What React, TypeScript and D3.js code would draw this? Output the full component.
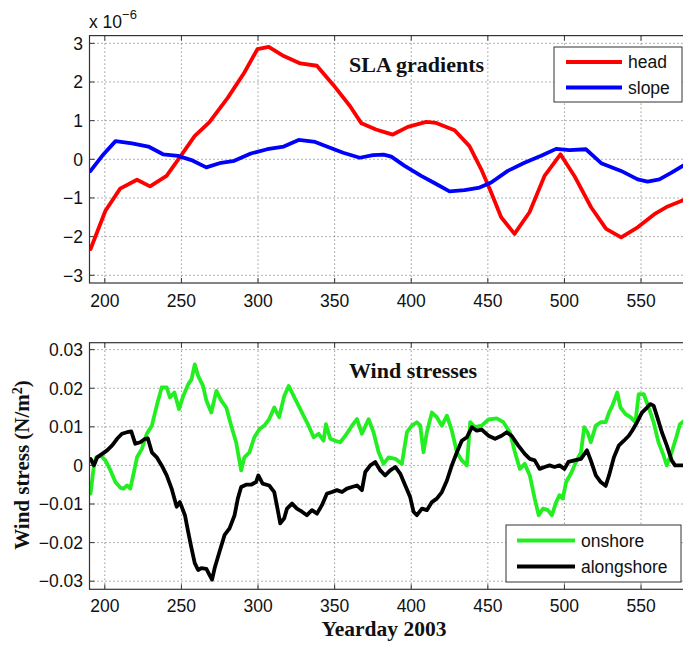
import React from "react";
import * as d3 from "d3";

// ---------- Data ----------
// Top panel: SLA gradients (x 1e-6)
const headDays = [190.7, 200.4, 210, 221, 229.5, 240.3, 249.6, 258.6, 268.3, 280.2, 291, 299.6, 307, 316.8, 327.6, 338.4, 349, 360, 367.5, 377, 383.6, 388, 397.8, 409.8, 416.3, 428.3, 438, 445.7, 452.2, 458.7, 467.4, 477.2, 487, 497.4, 506.5, 517.4, 527.2, 537, 547.8, 558.7, 567.4, 578];
const headVals = [-2.32, -1.33, -0.76, -0.53, -0.70, -0.43, 0.09, 0.60, 0.96, 1.59, 2.24, 2.85, 2.91, 2.67, 2.48, 2.42, 1.93, 1.38, 0.93, 0.77, 0.69, 0.64, 0.84, 0.97, 0.94, 0.75, 0.34, -0.26, -0.86, -1.50, -1.93, -1.37, -0.43, 0.13, -0.43, -1.24, -1.80, -2.02, -1.76, -1.42, -1.22, -1.05];

const slopeDays = [190.7, 198.3, 207, 217.7, 228.4, 238, 247.8, 256.5, 266.2, 275.9, 284.5, 295.3, 306, 316.8, 326.5, 337.3, 347, 355.6, 366.4, 375, 382, 387, 395.7, 406.5, 416.3, 425, 434.8, 444.6, 452.2, 463, 473.9, 484.8, 494.6, 503.3, 514, 524, 537, 547.8, 554.3, 562, 569.6, 578];
const slopeVals = [-0.30, 0.09, 0.47, 0.41, 0.33, 0.13, 0.09, -0.02, -0.21, -0.09, -0.04, 0.15, 0.26, 0.33, 0.50, 0.45, 0.30, 0.17, 0.04, 0.11, 0.12, 0.07, -0.17, -0.43, -0.64, -0.83, -0.80, -0.73, -0.60, -0.30, -0.09, 0.09, 0.27, 0.24, 0.26, -0.10, -0.30, -0.52, -0.58, -0.52, -0.35, -0.15];

// Bottom panel: wind stresses (N/m^2)
const onshoreDays = [190.7, 192.9, 194.4, 197.2, 200.4, 203.7, 206.9, 210.2, 212.3, 214.5, 216.6, 218.8, 221, 224.2, 227.4, 230.7, 233.9, 237.1, 240.4, 242.5, 245.4, 248.4, 251.2, 254.4, 256.6, 258.7, 260.9, 264.1, 266.3, 269.5, 272.8, 276, 279.3, 282.5, 285.7, 289, 291.1, 294.4, 297.6, 300.9, 304.1, 307.3, 310.6, 313.8, 317.1, 320, 324.3, 328.7, 333, 336.3, 339.6, 342.8, 344.3, 347.2, 350.4, 353.7, 357, 361.3, 364.6, 367.8, 372.2, 375.4, 378.7, 381.9, 385.2, 389.6, 393.9, 397.2, 400.4, 403.7, 405.9, 408, 410.2, 413.5, 416.7, 420, 423.3, 426.5, 429.8, 433, 436.3, 438.5, 441.7, 446, 450.4, 455.8, 460.1, 464.4, 467.7, 470.9, 474.1, 477.4, 480.6, 483.2, 486, 489.2, 491.8, 494.6, 496.8, 498.9, 501.1, 504.3, 507.5, 510.8, 512.9, 515.1, 517.2, 520.5, 523.7, 526.9, 529.1, 531.3, 534.5, 536.6, 539.9, 543.1, 546.3, 548.5, 551.7, 555, 558.2, 561.4, 564.7, 566.8, 570, 573.3, 575.4, 578];
const onshoreVals = [-0.73, 0, 0.21, 0.26, 0.13, -0.13, -0.43, -0.58, -0.60, -0.52, -0.60, -0.21, 0.21, 0.43, 0.82, 1.03, 1.55, 2.02, 2.02, 1.76, 1.89, 1.46, 1.80, 2.10, 2.23, 2.62, 2.32, 2.06, 1.68, 1.37, 1.93, 1.68, 1.50, 1.03, 0.60, -0.13, 0.21, 0.34, 0.73, 0.94, 1.03, 1.20, 1.50, 1.25, 1.80, 2.06, 1.72, 1.37, 1.03, 0.73, 0.82, 0.64, 1.07, 0.69, 0.64, 0.60, 0.77, 1.03, 1.20, 0.82, 1.20, 0.86, 0.34, 0.04, 0.21, 0.17, 0.04, 0.86, 1.03, 1.12, 1.03, 0.34, 0.86, 1.37, 1.25, 1.03, 1.29, 0.90, 0.34, 0.13, 0.00, 1.12, 0.99, 1.03, 1.19, 1.22, 1.12, 0.86, 0.34, -0.09, 0.04, -0.26, -0.86, -1.29, -1.12, -1.16, -1.29, -0.95, -0.77, -0.86, -0.43, -0.21, 0.09, 0.34, 0.99, 0.86, 0.60, 1.03, 1.12, 1.12, 1.37, 1.55, 1.89, 1.50, 1.33, 1.25, 1.12, 1.85, 1.85, 1.50, 1.12, 0.60, 0.26, 0.00, 0.34, 0.77, 1.07, 1.15].map((v) => v * 0.01);

const alongDays = [190.7, 192.9, 195, 198.3, 201.5, 204.8, 208, 211.2, 214.5, 217.3, 219.9, 223.1, 226.3, 228.1, 230.7, 233.9, 237.1, 240.4, 243.6, 246.9, 249, 252.3, 254.4, 256.6, 258.7, 260.9, 263, 266.3, 268.4, 270, 271.7, 274.9, 278.2, 281.4, 284.7, 286.8, 289, 292.2, 295.5, 298.7, 300.2, 303, 307.3, 310.6, 312.7, 314.5, 317.1, 318.9, 322.2, 325.4, 328.7, 331.9, 335.2, 338.5, 341.7, 345, 348.3, 351.5, 354.8, 358, 361.3, 364.6, 367.8, 370, 373.3, 376.5, 379.8, 383, 386.3, 389.6, 392.8, 396.1, 399.3, 401.5, 403.7, 407, 410.2, 413.5, 416.7, 420, 423.3, 426.5, 429.8, 433, 436.3, 439.6, 442.8, 446, 450.4, 454.7, 459, 462.3, 465.5, 469.8, 474.1, 477.4, 480.6, 483.8, 487.1, 490.3, 493.5, 496.8, 500, 502.6, 506.5, 510.8, 514.7, 517.2, 520.5, 523.7, 526.9, 529.1, 532.3, 535.6, 538.8, 542, 544.2, 547.4, 550.6, 553.9, 556, 558.2, 560.3, 563.6, 566.8, 570, 572.2, 575.4, 578];
const alongVals = [0.17, 0, 0.21, 0.30, 0.39, 0.52, 0.69, 0.82, 0.86, 0.88, 0.56, 0.60, 0.69, 0.70, 0.34, 0.21, 0.00, -0.26, -0.60, -1.07, -0.95, -1.29, -1.72, -2.15, -2.53, -2.71, -2.66, -2.68, -2.84, -2.96, -2.66, -2.23, -1.80, -1.63, -1.29, -0.86, -0.56, -0.50, -0.50, -0.43, -0.26, -0.47, -0.52, -0.69, -1.12, -1.50, -1.37, -1.12, -0.99, -1.12, -1.20, -1.29, -1.16, -1.25, -1.03, -0.73, -0.69, -0.64, -0.69, -0.60, -0.56, -0.52, -0.64, -0.17, 0.00, 0.09, -0.13, -0.26, -0.13, -0.04, -0.21, -0.52, -0.82, -1.20, -1.29, -1.12, -1.16, -0.95, -0.86, -0.69, -0.39, 0.00, 0.34, 0.64, 0.73, 0.99, 0.90, 0.93, 0.77, 0.69, 0.77, 0.86, 0.77, 0.52, 0.30, 0.17, 0.13, -0.09, -0.04, 0.00, -0.04, 0.00, -0.09, 0.09, 0.13, 0.17, 0.39, 0.13, -0.26, -0.43, -0.53, -0.26, 0.21, 0.52, 0.64, 0.77, 0.90, 1.12, 1.37, 1.50, 1.59, 1.55, 1.29, 0.86, 0.52, 0.13, 0.00, 0.00, 0.0].map((v) => v * 0.01);

const xTicks = [200, 250, 300, 350, 400, 450, 500, 550];
const topYTicks = [-3, -2, -1, 0, 1, 2, 3];
const bottomYTicks = [-0.03, -0.02, -0.01, 0, 0.01, 0.02, 0.03];

const W = 683;
const H = 645;
const SANS = "'Liberation Sans', Arial, sans-serif";
const SERIF = "'Liberation Serif', 'Times New Roman', serif";
const LINE_W = 3.8;

type Series = { days: number[]; vals: number[]; color: string };

function Panel({
  top,
  bottom,
  yDomain,
  yTicks,
  yFmt,
  series,
  title,
  titleY,
  legend,
  legendBox,
  id,
  xLabelY,
}: {
  top: number;
  bottom: number;
  yDomain: [number, number];
  yTicks: number[];
  yFmt: (v: number) => string;
  series: Series[];
  title: string;
  titleY: number;
  legend: { label: string; color: string }[];
  legendBox: { x: number; y: number; w: number; h: number; lineX0: number; lineX1: number; textX: number; rows: number[] };
  id: string;
  xLabelY: number;
}) {
  const left = 89.5;
  const right = 687;
  const x = d3.scaleLinear().domain([190, 580]).range([left, right]);
  const y = d3.scaleLinear().domain(yDomain).range([bottom, top]);
  const line = d3
    .line<[number, number]>()
    .x((d) => x(d[0]))
    .y((d) => y(d[1]));
  const tick = 5;
  return (
    <g>
      <defs>
        <clipPath id={id}>
          <rect x={left} y={top} width={right - left} height={bottom - top} />
        </clipPath>
      </defs>
      <rect x={left} y={top} width={right - left} height={bottom - top} fill="#fff" />
      {xTicks.map((t) => (
        <line key={"gx" + t} x1={x(t)} x2={x(t)} y1={top} y2={bottom} stroke="#666" strokeWidth={1} strokeDasharray="1,3" />
      ))}
      {yTicks.map((t) => (
        <line key={"gy" + t} x1={left} x2={right} y1={y(t)} y2={y(t)} stroke="#666" strokeWidth={1} strokeDasharray="1,3" />
      ))}
      {xTicks.map((t) => (
        <g key={"tx" + t}>
          <line x1={x(t)} x2={x(t)} y1={bottom} y2={bottom - tick} stroke="#333" />
          <line x1={x(t)} x2={x(t)} y1={top} y2={top + tick} stroke="#333" />
          <text x={x(t)} y={xLabelY} textAnchor="middle" fontFamily={SANS} fontSize={17.5} fill="#111">
            {t}
          </text>
        </g>
      ))}
      {yTicks.map((t) => (
        <g key={"ty" + t}>
          <line x1={left} x2={left + tick} y1={y(t)} y2={y(t)} stroke="#333" />
          <text x={83} y={y(t)} dy="0.36em" textAnchor="end" fontFamily={SANS} fontSize={17.5} fill="#111">
            {yFmt(t)}
          </text>
        </g>
      ))}
      <g clipPath={`url(#${id})`}>
        {series.map((s, i) => (
          <path
            key={i}
            d={line(s.days.map((d, j) => [d, s.vals[j]] as [number, number])) || ""}
            fill="none"
            stroke={s.color}
            strokeWidth={LINE_W}
            strokeLinejoin="round"
            strokeLinecap="round"
          />
        ))}
      </g>
      <rect x={left} y={top} width={right - left} height={bottom - top} fill="none" stroke="#333" strokeWidth={1.2} />
      <text x={349} y={titleY} fontFamily={SERIF} fontWeight="bold" fontSize={22} fill="#111">
        {title}
      </text>
      <rect x={legendBox.x} y={legendBox.y} width={legendBox.w} height={legendBox.h} fill="#fff" stroke="#333" strokeWidth={1} />
      {legend.map((l, i) => (
        <g key={l.label}>
          <line x1={legendBox.lineX0} x2={legendBox.lineX1} y1={legendBox.rows[i]} y2={legendBox.rows[i]} stroke={l.color} strokeWidth={LINE_W} />
          <text x={legendBox.textX} y={legendBox.rows[i]} dy="0.36em" fontFamily={SANS} fontSize={17.5} fill="#111">
            {l.label}
          </text>
        </g>
      ))}
    </g>
  );
}

export default function App() {
  const fmtTop = (v: number) => (v < 0 ? "\u2212" + Math.abs(v) : String(v));
  const fmtBot = (v: number) => {
    if (v === 0) return "0";
    const s = Math.abs(v).toFixed(2);
    return v < 0 ? "\u2212" + s : s;
  };
  return (
    <svg width={W} height={H} style={{ position: "absolute", left: 0, top: 0, background: "#fff" }}>
      <rect x={0} y={0} width={W} height={H} fill="#fff" />
      <text x={89} y={27.5} fontFamily={SANS} fontSize={17.5} fill="#111">
        x 10
        <tspan dy={-9} fontSize={13}>
          {"\u22126"}
        </tspan>
      </text>
      <Panel
        id="clipTop"
        top={35.6}
        bottom={283}
        yDomain={[-3.2, 3.2]}
        yTicks={topYTicks}
        yFmt={fmtTop}
        series={[
          { days: headDays, vals: headVals, color: "#ff0000" },
          { days: slopeDays, vals: slopeVals, color: "#0000ff" },
        ]}
        title="SLA gradients"
        titleY={72}
        legend={[
          { label: "head", color: "#ff0000" },
          { label: "slope", color: "#0000ff" },
        ]}
        legendBox={{ x: 554, y: 47, w: 128, h: 55, lineX0: 566, lineX1: 622, textX: 628, rows: [62, 87.5] }}
        xLabelY={307}
      />
      <Panel
        id="clipBot"
        top={342.7}
        bottom={589.3}
        yDomain={[-0.0321, 0.0318]}
        yTicks={bottomYTicks}
        yFmt={fmtBot}
        series={[
          { days: onshoreDays, vals: onshoreVals, color: "#22ee22" },
          { days: alongDays, vals: alongVals, color: "#000000" },
        ]}
        title="Wind stresses"
        titleY={378}
        legend={[
          { label: "onshore", color: "#22ee22" },
          { label: "alongshore", color: "#000000" },
        ]}
        legendBox={{ x: 506, y: 525, w: 175, h: 57, lineX0: 517, lineX1: 575, textX: 581, rows: [540.5, 566.5] }}
        xLabelY={612}
      />
      <text x={384} y={636} textAnchor="middle" fontFamily={SERIF} fontWeight="bold" fontSize={21.5} fill="#111">
        Yearday 2003
      </text>
      <text
        transform="translate(29,465) rotate(-90)"
        textAnchor="middle"
        fontFamily={SERIF}
        fontWeight="bold"
        fontSize={21}
        fill="#111"
      >
        Wind stress (N/m
        <tspan dy={-7} fontSize={14}>
          2
        </tspan>
        <tspan dy={7}>)</tspan>
      </text>
    </svg>
  );
}
